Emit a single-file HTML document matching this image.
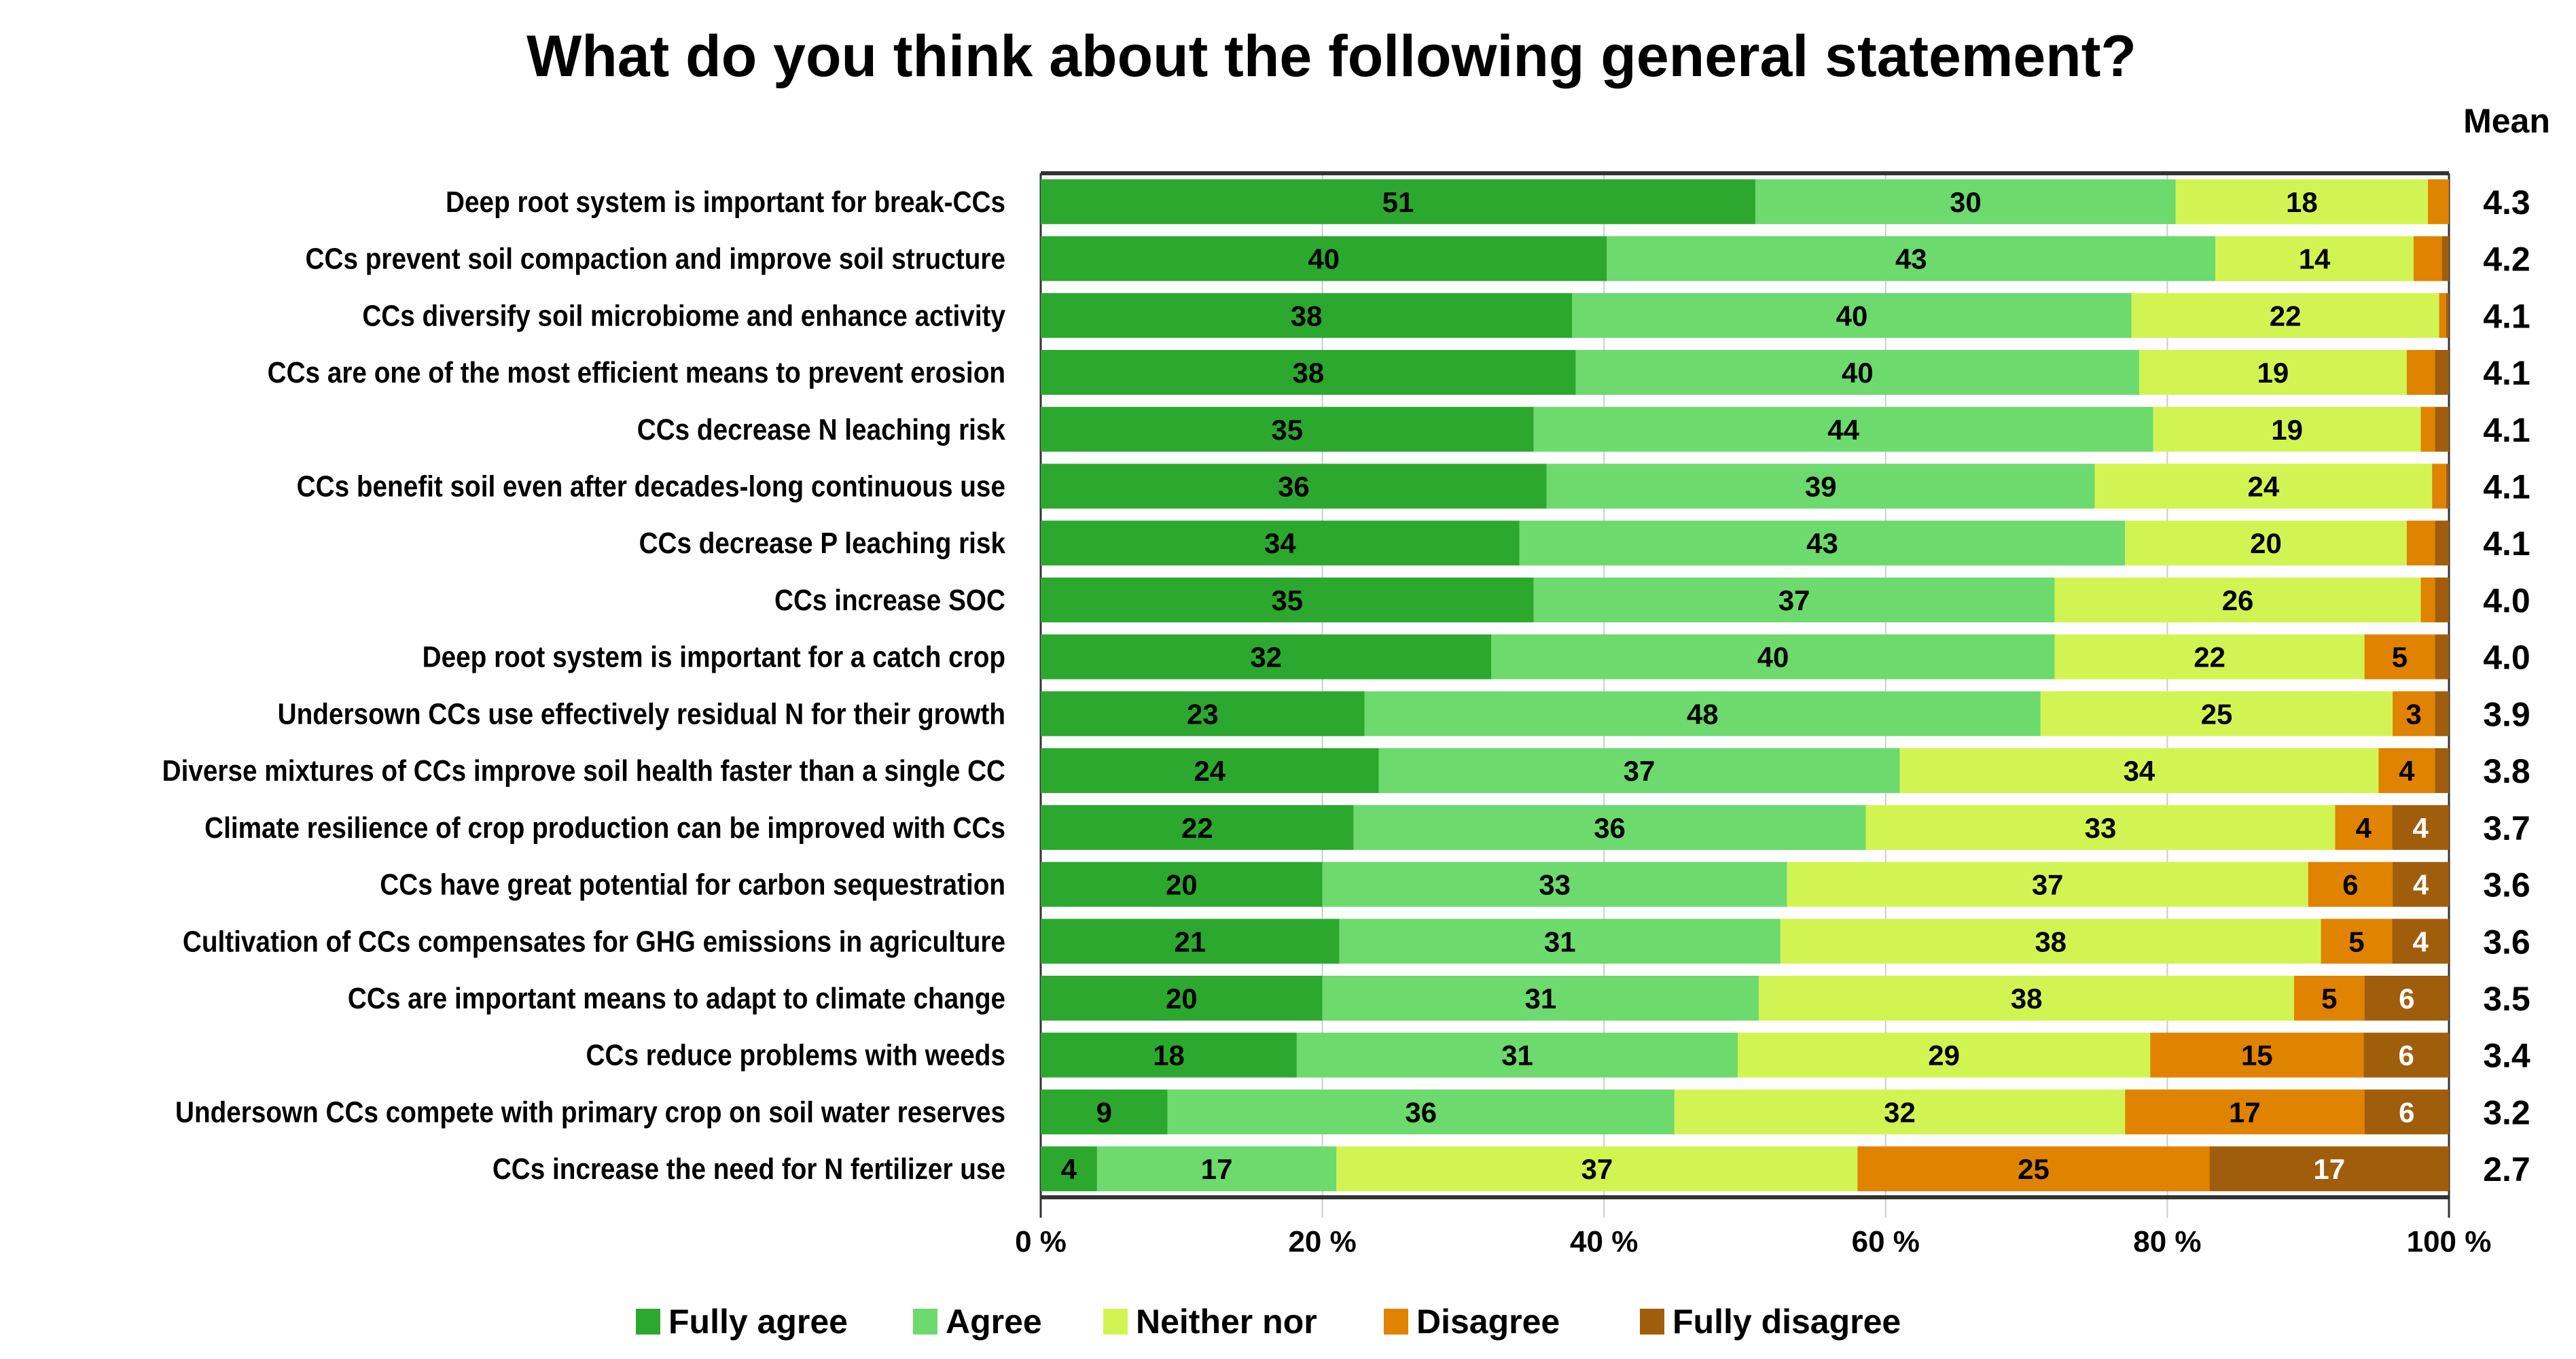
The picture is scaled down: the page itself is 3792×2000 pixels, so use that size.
<!DOCTYPE html>
<html><head><meta charset="utf-8"><style>
html,body{margin:0;padding:0;background:#fff;}
svg{display:block;font-family:"Liberation Sans",sans-serif;}
</style></head><body>
<svg id="chart" width="3792" height="2000" viewBox="0 0 3792 2000" xmlns="http://www.w3.org/2000/svg">
<text x="1960" y="112" text-anchor="middle" font-size="86" font-weight="bold" fill="#000">What do you think about the following general statement?</text>
<text x="3690" y="195" text-anchor="middle" font-size="50" font-weight="bold" fill="#000">Mean</text>
<g id="grid"></g>
<g id="bars"></g>
<g id="labels"></g>
<g id="axis"></g>
<g id="legend"></g>
</svg>
<script>
const categories = [
"Deep root system is important for break-CCs",
"CCs prevent soil compaction and improve soil structure",
"CCs diversify soil microbiome and enhance activity",
"CCs are one of the most efficient means to prevent erosion",
"CCs decrease N leaching risk",
"CCs benefit soil even after decades-long continuous use",
"CCs decrease P leaching risk",
"CCs increase SOC",
"Deep root system is important for a catch crop",
"Undersown CCs use effectively residual N for their growth",
"Diverse mixtures of CCs improve soil health faster than a single CC",
"Climate resilience of crop production can be improved with CCs",
"CCs have great potential for carbon sequestration",
"Cultivation of CCs compensates for GHG emissions in agriculture",
"CCs are important means to adapt to climate change",
"CCs reduce problems with weeds",
"Undersown CCs compete with primary crop on soil water reserves",
"CCs increase the need for N fertilizer use"];
const fullyAgree   = [51,40,38,38,35,36,34,35,32,23,24,22,20,21,20,18,9,4];
const agree        = [30,43,40,40,44,39,43,37,40,48,37,36,33,31,31,31,36,17];
const neither      = [18,14,22,19,19,24,20,26,22,25,34,33,37,38,38,29,32,37];
const disagree     = [1.5,2,0.5,2,1,1,2,1,5,3,4,4,6,5,5,15,17,25];
const fullyDisagree= [0,0.5,0.2,1,1,0.2,1,1,1,1,1,4,4,4,6,6,6,17];
const means = ["4.3","4.2","4.1","4.1","4.1","4.1","4.1","4.0","4.0","3.9","3.8","3.7","3.6","3.6","3.5","3.4","3.2","2.7"];
const seriesNames = ["Fully agree","Agree","Neither nor","Disagree","Fully disagree"];
const ticks = [0,20,40,60,80,100];

const colors = ["#2ca82e","#6cda6c","#d2f452","#e08300","#a05e0c"];
const textColors = ["#000","#000","#000","#000","#fff"];
const series = [fullyAgree,agree,neither,disagree,fullyDisagree];
const NS="http://www.w3.org/2000/svg";
const X0=1532, X1=3605, Y0=255, Y1=1762;
const x = v => X0 + (X1-X0)*v/100;
const rowStep = (Y1-Y0)/categories.length;
const yc = i => Y0 + rowStep*(i+0.5);
const BH = 66;
function mk(tag, attrs, parent){const e=document.createElementNS(NS,tag);for(const k in attrs)e.setAttribute(k,attrs[k]);parent.appendChild(e);return e;}
const grid=document.getElementById('grid'), bars=document.getElementById('bars'), labels=document.getElementById('labels'), axis=document.getElementById('axis'), legend=document.getElementById('legend');
ticks.forEach(t=>{
  const l=mk('line',{x1:x(t),x2:x(t),y1:Y0,y2:Y1+30,stroke:t===0||t===100?'#333':'#ccc','stroke-width':t===0||t===100?3:2},grid);
  
  
  const tx=mk('text',{x:x(t),y:1842,'text-anchor':'middle','font-size':44,'font-weight':'bold',fill:'#000'},axis);
  tx.textContent=t+' %';
  
  
});
categories.forEach((c,i)=>{
  const tot=series.reduce((s,a)=>s+a[i],0);
  let acc=0;
  series.forEach((arr,k)=>{
    const v=arr[i]/tot*100;
    const r=mk('rect',{x:x(acc),y:yc(i)-BH/2,width:Math.max(0,x(acc+v)-x(acc)),height:BH,fill:colors[k]},bars);
    
    
    if(arr[i]>=3){
      const t=mk('text',{x:x(acc+v/2),y:yc(i)+15,'text-anchor':'middle','font-size':42,'font-weight':'bold',fill:textColors[k]},bars);
      t.textContent=Math.round(arr[i]);
      
      
    }
    acc+=v;
  });
  const g=mk('g',{transform:'translate(1480,'+(yc(i)+15)+') scale(0.88,1)'},labels);
  const lt=mk('text',{x:0,y:0,'text-anchor':'end','font-size':44,'font-weight':'bold',fill:'#000'},g);
  lt.textContent=c;
  
  
  const mt=mk('text',{x:3690,y:yc(i)+18,'text-anchor':'middle','font-size':50,'font-weight':'bold',fill:'#000'},labels);
  mt.textContent=means[i];
  
  
});
mk('line',{x1:X0,x2:X1,y1:Y0,y2:Y0,stroke:'#333','stroke-width':6},axis);
mk('line',{x1:X0,x2:X1,y1:Y1,y2:Y1,stroke:'#333','stroke-width':6},axis);
const legX=[936,1344,1624,2037,2414];
seriesNames.forEach((n,k)=>{
  const r=mk('rect',{x:legX[k],y:1926,width:36,height:38,fill:colors[k]},legend);
  
  
  const t=mk('text',{x:legX[k]+48,y:1962,'font-size':50,'font-weight':'bold',fill:'#000'},legend);
  t.textContent=n;
  
  
});
</script>
</body></html>
